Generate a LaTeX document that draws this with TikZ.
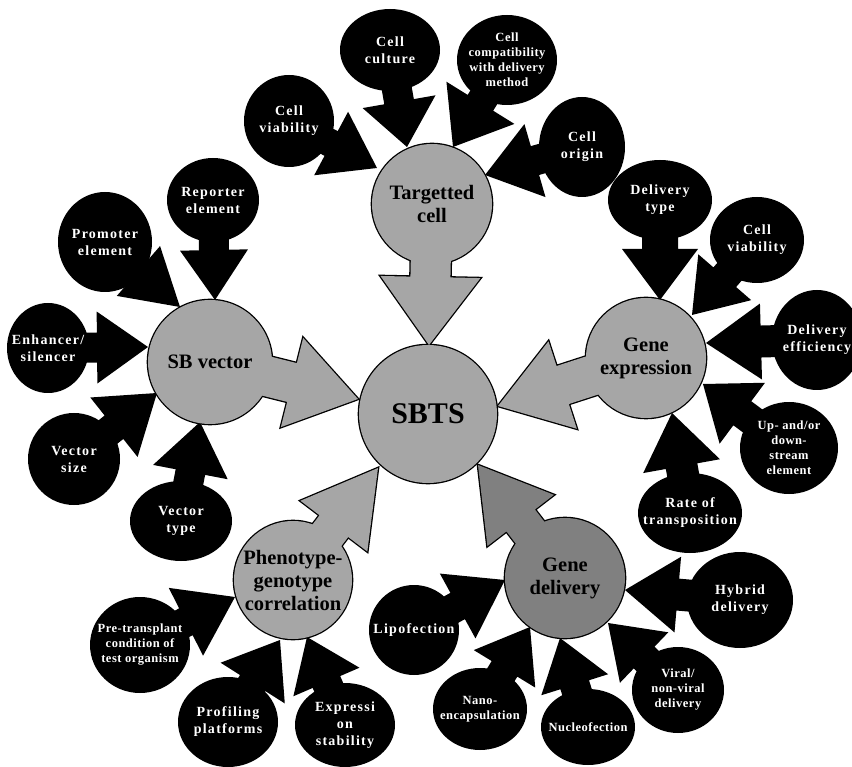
\documentclass[tikz,border=0pt]{standalone}
\usepackage{fontspec}
\setmainfont{Liberation Serif}
\newfontfamily\spacedserif[LetterSpace=9]{Liberation Serif}
\newfontfamily\tightserif[LetterSpace=4]{Liberation Serif}
\usetikzlibrary{calc}

\pgfdeclarelayer{arrows}
\pgfdeclarelayer{gline}
\pgfdeclarelayer{gfill}
\pgfsetlayers{arrows,gline,gfill,main}

\definecolor{hubgray}{RGB}{166,166,166}
\definecolor{deepgray}{RGB}{128,128,128}

% block arrow from a node centre to a tip coordinate
% #1 path style, #2 start node, #3 tip, #4 head length, #5 head half-width, #6 shaft half-width
\newcommand{\cbArrow}[6]{%
  \coordinate (#2-hb) at ($(#3)!#4!(#2.center)$);
  \path[#1] ($(#2.center)!#6!90:(#3)$) -- ($(#2-hb)!#6!90:(#3)$)
    -- ($(#2-hb)!#5!90:(#3)$) -- (#3) -- ($(#2-hb)!#5!-90:(#3)$)
    -- ($(#2-hb)!#6!-90:(#3)$) -- ($(#2.center)!#6!-90:(#3)$) -- cycle;
}

% black speech bubble: #1 name, #2 centre, #3 x radius, #4 y radius, #5 tip,
% #6 head length, #7 head half-width, #8 shaft half-width, #9 text
\newcommand{\callbubble}[9]{%
  \node[bubtext] (#1) at (#2) {#9};
  \coordinate (#1-tip) at (#5);
  \begin{pgfonlayer}{arrows}
    \fill[black] (#1.center) ellipse [x radius=#3pt, y radius=#4pt];
    \cbArrow{fill=black}{#1}{#1-tip}{#6pt}{#7pt}{#8pt}
  \end{pgfonlayer}
}
% the same bubble with the smaller lettering
\newcommand{\smallbubble}[9]{%
  \begingroup
  \tikzset{bubtext/.style={bubsmall}}%
  \callbubble{#1}{#2}{#3}{#4}{#5}{#6}{#7}{#8}{#9}%
  \endgroup
}

% grey hub circle with its arrow: #1 name, #2 centre, #3 radius, #4 colour, #5 tip,
% #6 head length, #7 head half-width, #8 shaft half-width, #9 text
\newcommand{\hubnode}[9]{%
  \node[hubtext] (#1) at (#2) {#9};
  \coordinate (#1-tip) at (#5);
  \begin{pgfonlayer}{gline}
    \draw[line width=2.6pt] (#1.center) circle [radius=#3pt];
    \cbArrow{draw, line width=2.6pt, line join=miter}{#1}{#1-tip}{#6pt}{#7pt}{#8pt}
  \end{pgfonlayer}
  \begin{pgfonlayer}{gfill}
    \fill[#4] (#1.center) circle [radius=#3pt];
    \cbArrow{fill=#4}{#1}{#1-tip}{#6pt}{#7pt}{#8pt}
  \end{pgfonlayer}
}

\tikzset{
  bubtext/.style={inner sep=0pt, align=center, text=white,
    font=\spacedserif\bfseries\fontsize{14}{17}\selectfont},
  bubsmall/.style={inner sep=0pt, align=center, text=white,
    font=\tightserif\bfseries\fontsize{12.5}{15}\selectfont},
  hubtext/.style={inner sep=0pt, align=center, text=black,
    font=\bfseries\fontsize{20.5}{23}\selectfont},
}

\begin{document}
\begin{tikzpicture}[x=1pt, y=-1pt]
\useasboundingbox (0,0) rectangle (852,767);

% central hub
\node[hubtext, font=\bfseries\fontsize{30}{34}\selectfont] (sbts) at (428,414) {SBTS};
\begin{pgfonlayer}{gline}
  \draw[line width=2.6pt] (sbts.center) circle [radius=69pt];
\end{pgfonlayer}
\begin{pgfonlayer}{gfill}
  \fill[hubgray] (sbts.center) circle [radius=69pt];
\end{pgfonlayer}

% contributing hubs
\hubnode{tcell}{432,204}{60}{hubgray}{429,345}{68}{50}{20}{Targetted\\cell}
\hubnode{sbvec}{210,362}{62}{hubgray}{358,399}{68}{46}{20}{SB vector}
\hubnode{gexp}{646,358}{60}{hubgray}{498,406}{68}{46}{20}{Gene\\expression}
\hubnode{pheno}{293,580}{59}{hubgray}{378,468}{73}{42}{18}{Phenotype-\\genotype\\correlation}
\hubnode{gdel}{565,578}{60}{deepgray}{478,465}{70}{42}{18}{Gene\\delivery}

% targetted cell factors
\callbubble{cul}{390,50}{50}{41}{407,147}{46}{37}{15}{Cell\\culture}
\smallbubble{cmp}{507,60}{50}{45}{453,147}{52}{40}{15}{Cell\\compatibility\\with delivery\\method}
\callbubble{via}{289,121}{45}{46}{377,168}{52}{36}{14}{Cell\\viability}
\callbubble{ori}{582,147}{43}{50}{485,175}{52}{38}{15}{Cell\\origin}

% SB vector factors
\callbubble{rep}{213,200}{46}{42}{215,300}{50}{34}{15}{Reporter\\element}
\callbubble{pro}{105,242}{47}{50}{180,307}{55}{33}{14}{Promoter\\element}
\callbubble{enh}{48,348}{41}{45}{148,347}{51}{36}{15}{Enhancer/\\silencer}
\callbubble{vsz}{74,459}{46}{46}{157,393}{55}{38}{15}{Vector\\size}
\callbubble{vty}{181,521}{51}{40}{200,422}{51}{38}{15}{Vector\\type}

% gene expression factors
\callbubble{dty}{660,200}{52}{40}{660,300}{51}{38}{18}{Delivery\\type}
\callbubble{cvr}{757,240}{47}{43}{692,315}{50}{35}{15}{Cell\\viability}
\callbubble{def}{817,340}{45}{50}{706,343}{55}{38}{16}{Delivery\\efficiency}
\smallbubble{upd}{789,448}{49}{46}{703,384}{49}{38}{15}{Up- and/or\\down-\\stream\\element}
\callbubble{rot}{690,513}{52}{40}{672,413}{54}{39}{16}{Rate of\\transposition}

% gene delivery factors
\callbubble{hyb}{740,600}{53}{48}{625,590}{53}{38}{16}{Hybrid\\delivery}
\smallbubble{vir}{678,690}{46}{43}{608,623}{50}{35}{15}{Viral/\\non-viral\\delivery}
\smallbubble{nuc}{588,727}{47}{38}{560,638}{49}{35}{15}{Nucleofection}
\smallbubble{nan}{480,709}{47}{41}{530,627}{49}{36}{15}{Nano-\\encapsulation}
\callbubble{lip}{414,630}{45}{45}{505,580}{54}{37}{15}{Lipofection}

% phenotype-genotype factors
\smallbubble{pre}{140,645}{50}{48}{235,597}{55}{38}{15}{Pre-transplant\\condition of\\test organism}
\callbubble{prf}{228,722}{50}{45}{280,640}{51}{38}{15}{Profiling\\platforms}
\callbubble{exs}{345,725}{50}{42}{307,637}{49}{36}{15}{Expressi\\on\\stability}
\end{tikzpicture}
\end{document}
